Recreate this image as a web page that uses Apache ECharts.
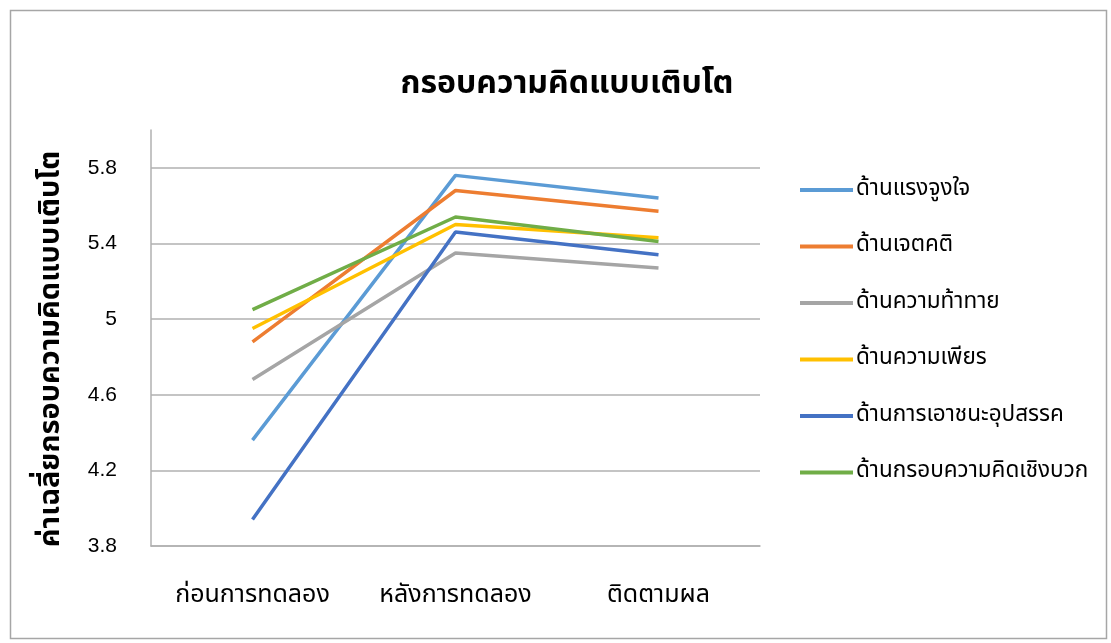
<!DOCTYPE html>
<html>
<head>
<meta charset="utf-8">
<script src="https://cdn.jsdelivr.net/npm/echarts@6/dist/echarts.min.js"></script>
<style>
html,body{margin:0;padding:0;background:#fff;}
#c{width:1111px;height:643px;}
</style>
</head>
<body>
<div id="c"></div>
<script>
const categories = ['ก่อนการทดลอง', 'หลังการทดลอง', 'ติดตามผล'];
const seriesNames = ['ด้านแรงจูงใจ', 'ด้านเจตคติ', 'ด้านความท้าทาย', 'ด้านความเพียร', 'ด้านการเอาชนะอุปสรรค', 'ด้านกรอบความคิดเชิงบวก'];
const motivation = [4.36, 5.76, 5.64];
const attitude = [4.88, 5.68, 5.57];
const challenge = [4.68, 5.35, 5.27];
const perseverance = [4.95, 5.50, 5.43];
const overcoming = [3.94, 5.46, 5.34];
const positive = [5.05, 5.54, 5.41];
const tickLabels = ['3.8', '4.2', '4.6', '5', '5.4', '5.8'];
const colors = ['#5B9BD5', '#ED7D31', '#A5A5A5', '#FFC000', '#4472C4', '#70AD47'];
const seriesData = [motivation, attitude, challenge, perseverance, overcoming, positive];

const FONT = '"Noto Sans Thai", "Leelawadee UI", Tahoma, "Noto Sans", sans-serif';
const chart = echarts.init(document.getElementById('c'));
chart.setOption({
  animation: false,
  backgroundColor: '#fff',
  color: colors,
  title: {
    text: 'กรอบความคิดแบบเติบโต',
    left: 562, top: 66, textAlign: 'center',
    textStyle: {fontFamily: FONT, fontSize: 32, fontWeight: 'bold', color: '#000'}
  },
  graphic: [{
    type: 'rect', left: 8, top: 8,
    shape: {width: 1096, height: 628},
    style: {fill: 'none', stroke: '#a6a6a6', lineWidth: 1.5}
  }],
  legend: {
    orient: 'vertical', left: 795, top: 172,
    itemWidth: 53, itemHeight: 4, itemGap: 30.5, icon: 'rect',
    textStyle: {fontFamily: FONT, fontSize: 22.5, color: '#000', lineHeight: 26, padding: [0, 0, 0, -2]},
    data: seriesNames
  },
  grid: {left: 151, right: 351, top: 130, bottom: 97, containLabel: false},
  xAxis: {
    type: 'category', data: categories, boundaryGap: true,
    axisLine: {show: true, lineStyle: {color: '#b0b0b0', width: 1.5}},
    axisTick: {show: false},
    axisLabel: {interval: 0, hideOverlap: false, margin: 38, fontFamily: FONT, fontSize: 25, color: '#000'}
  },
  yAxis: {
    type: 'value', min: 3.8, max: 6.0, interval: 0.2,
    name: 'ค่าเฉลี่ยกรอบความคิดแบบเติบโต',
    nameLocation: 'middle', nameGap: 83, nameRotate: 90,
    nameTextStyle: {fontFamily: FONT, fontSize: 29, fontWeight: 'bold', color: '#000', padding: [0, 22, 0, 0]},
    axisLine: {show: true, lineStyle: {color: '#b0b0b0', width: 1.5}},
    axisTick: {show: false},
    axisLabel: {
      margin: 34, fontFamily: 'Liberation Sans, Arial, sans-serif', fontSize: 21, color: '#000',
      formatter: function (v) {
        const s = String(Math.round(v * 10) / 10);
        return tickLabels.indexOf(s) >= 0 ? s : '';
      }
    },
    splitLine: {show: true, lineStyle: {color: ['#b0b0b0', 'rgba(0,0,0,0)'], width: 1.5}}
  },
  series: seriesNames.map(function (n, i) {
    return {
      name: n, type: 'line', data: seriesData[i],
      showSymbol: false, symbol: 'none',
      lineStyle: {width: 3.5, color: colors[i]},
      itemStyle: {color: colors[i]}
    };
  })
});
</script>
</body>
</html>
